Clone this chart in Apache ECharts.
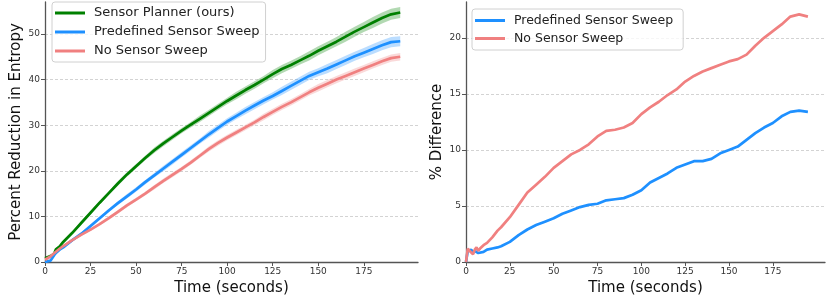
<!DOCTYPE html>
<html><head><meta charset="utf-8">
<script src="https://cdn.jsdelivr.net/npm/echarts@6/dist/echarts.min.js"></script>
<style>html,body{margin:0;padding:0;background:#fff}#c{width:830px;height:296px}</style>
</head><body><div id="c"></div>
<script>
// ---- Left panel data ----
const timeL = [0,3,5,6,8,10,15,20,25,30,35,40,45,50,55,60,65,70,75,80,85,90,95,100,105,110,115,120,125,130,135,140,145,150,155,160,165,170,175,180,185,190,195];
const plannerL = [0.8,1.3,1.8,2.8,3.4,4.4,6.4,8.6,10.8,13.0,15.1,17.2,19.2,21.0,22.8,24.5,26.0,27.4,28.8,30.1,31.4,32.7,34.0,35.3,36.5,37.7,38.8,40.0,41.2,42.3,43.2,44.2,45.2,46.3,47.3,48.3,49.4,50.5,51.5,52.5,53.5,54.3,54.7];
const predefL = [0,0.3,1.5,2.0,2.7,3.2,4.8,6.2,7.9,9.6,11.3,12.9,14.4,15.9,17.5,19.0,20.5,22.0,23.5,25.0,26.5,28.0,29.4,30.8,32.0,33.2,34.3,35.4,36.4,37.5,38.6,39.7,40.8,41.6,42.4,43.3,44.2,45.1,45.9,46.7,47.5,48.2,48.4];
const noSweepL = [0.5,1.2,1.9,2.3,2.9,3.5,4.8,6.0,7.1,8.3,9.6,11.0,12.4,13.7,15.0,16.4,17.8,19.1,20.4,21.8,23.3,24.8,26.1,27.3,28.4,29.5,30.6,31.8,32.9,34.0,35.0,36.1,37.2,38.2,39.1,40.0,40.8,41.6,42.4,43.2,44.0,44.7,45.0];
// half-widths of shaded bands
const plannerBand = [0.2,0.2,0.3,0.3,0.3,0.3,0.3,0.4,0.4,0.4,0.4,0.5,0.5,0.5,0.5,0.6,0.6,0.6,0.6,0.6,0.7,0.7,0.7,0.7,0.8,0.8,0.8,0.8,0.9,0.9,0.9,0.9,1.0,1.0,1.0,1.0,1.1,1.1,1.1,1.2,1.2,1.2,1.2];
const predefBand  = [0.2,0.2,0.3,0.3,0.3,0.3,0.3,0.3,0.4,0.4,0.4,0.4,0.5,0.5,0.5,0.5,0.6,0.6,0.6,0.6,0.6,0.7,0.7,0.7,0.7,0.8,0.8,0.8,0.8,0.9,0.9,0.9,0.9,0.9,1.0,1.0,1.0,1.0,1.0,1.1,1.1,1.1,1.1];
const noSweepBand = [0.2,0.2,0.2,0.2,0.3,0.3,0.3,0.3,0.3,0.3,0.4,0.4,0.4,0.4,0.4,0.5,0.5,0.5,0.5,0.5,0.5,0.6,0.6,0.6,0.6,0.6,0.6,0.7,0.7,0.7,0.7,0.7,0.7,0.8,0.8,0.8,0.8,0.8,0.8,0.8,0.8,0.8,0.8];

// ---- Right panel data ----
const timeR = [0,1,2,3,4,5,6,7,8,10,12,15,18,20,25,30,35,40,45,50,55,60,65,70,75,80,85,90,95,100,105,110,115,120,125,130,135,140,145,150,155,160,165,170,175,180,185,190,195];
const predefDiff = [0,1.0,0.9,1.1,0.8,1.0,1.1,0.8,0.7,0.9,1.1,1.2,1.3,1.4,1.8,2.4,2.9,3.3,3.6,3.9,4.3,4.6,4.9,5.1,5.2,5.5,5.6,5.7,6.0,6.4,7.1,7.5,7.9,8.4,8.7,9.0,9.0,9.2,9.7,10.0,10.3,10.9,11.5,12.0,12.4,13.0,13.4,13.5,13.4];
const noSweepDiff = [0,1.2,1.0,0.9,0.7,1.1,1.3,1.0,1.2,1.5,1.7,2.2,2.8,3.1,4.0,5.1,6.2,6.9,7.6,8.4,9.0,9.6,10.0,10.5,11.2,11.7,11.8,12.0,12.4,13.2,13.8,14.3,14.9,15.4,16.1,16.6,17.0,17.3,17.6,17.9,18.1,18.5,19.3,20.0,20.6,21.2,21.9,22.1,21.9];

const xTicks = [0,25,50,75,100,125,150,175,200];
const names = ['Sensor Planner (ours)','Predefined Sensor Sweep','No Sensor Sweep'];
const colors = ['#008000','#1e90ff','#f08080'];
const bandColors = ['rgba(0,128,0,0.3)','rgba(30,144,255,0.3)','rgba(240,128,128,0.3)'];

const FONT = 'DejaVu Sans';
const zip = (xs, ys) => xs.map((x,i)=>[x, ys[i]]);

function bandSeries(idx, vals, band){
  const data = timeL.map((t,i)=>[t, vals[i]-band[i], vals[i]+band[i]]);
  return {
    type:'custom', xAxisIndex:0, yAxisIndex:0, silent:true, z:1,
    encode:{x:0, y:[1,2]},
    data,
    renderItem:function(params, api){
      if (params.dataIndex !== 0) return null;
      const upper = data.map(d=>api.coord([d[0], d[2]]));
      const lower = data.map(d=>api.coord([d[0], d[1]])).reverse();
      return {type:'polygon', shape:{points: upper.concat(lower)}, style:{fill: bandColors[idx], stroke:'none'}};
    }
  };
}
function mainLine(name, idx, xs, ys, xi){
  return {name, type:'line', xAxisIndex:xi, yAxisIndex:xi, symbol:'none',
    lineStyle:{color:colors[idx], width:2.7}, itemStyle:{color:colors[idx]},
    data: zip(xs, ys), z:3};
}

const axisCommon = {
  axisLine:{show:true, lineStyle:{color:'#555', width:1.3}},
  axisTick:{show:true, length:4, lineStyle:{color:'#555'}},
  axisLabel:{fontFamily:FONT, fontSize:9, color:'#333', margin:5, showMaxLabel:false},
  nameTextStyle:{fontFamily:FONT, fontSize:15, color:'#111'}
};
function xAx(gi){
  return Object.assign({}, axisCommon, {type:'value', gridIndex:gi, min:0, max:204.75, interval:25,
    name:'Time (seconds)', nameLocation:'middle', nameGap:17, splitLine:{show:false},
    axisLabel:Object.assign({}, axisCommon.axisLabel, {customValues:xTicks}),
    axisTick:Object.assign({}, axisCommon.axisTick, {customValues:xTicks})});
}
function yAx(gi, max, interval, name){
  return Object.assign({}, axisCommon, {type:'value', gridIndex:gi, min:0, max, interval,
    name, nameLocation:'middle', nameGap:21, nameRotate:90,
    splitLine:{show:true, showMinLine:false, showMaxLine:false, lineStyle:{color:'#c8c8c8', type:[3,2], width:0.8}}});
}

const legendCommon = {
  orient:'vertical', icon:'rect', itemWidth:30, itemHeight:3,
  backgroundColor:'rgba(255,255,255,0.8)', borderColor:'#d0d0d0', borderWidth:1, borderRadius:3
};

const chart = echarts.init(document.getElementById('c'), null, {renderer:'canvas'});
chart.setOption({
  animation:false,
  grid:[{left:45, right:412, top:2, bottom:34, outerBoundsMode:'none', containLabel:false},
        {left:466, right:5, top:2, bottom:34, outerBoundsMode:'none', containLabel:false}],
  xAxis:[xAx(0), xAx(1)],
  yAxis:[yAx(0, 57, 10, 'Percent Reduction in Entropy'), yAx(1, 23.2, 5, '% Difference')],
  legend:[
    Object.assign({}, legendCommon, {left:52, top:2, width:213, itemGap:4, padding:[3.5,6,3.5,3],
      textStyle:{fontFamily:FONT, fontSize:13, color:'#222', lineHeight:15, padding:[0,0,0,4]}, data:names}),
    Object.assign({}, legendCommon, {left:472, top:9, itemGap:3, padding:[4,6,4,3],
      textStyle:{fontFamily:FONT, fontSize:12.5, color:'#222', lineHeight:15, padding:[0,0,0,4]}, data:[names[1]+' ', names[2]+' ']})
  ],
  series:[
    bandSeries(0, plannerL, plannerBand),
    bandSeries(1, predefL, predefBand),
    bandSeries(2, noSweepL, noSweepBand),
    mainLine(names[0], 0, timeL, plannerL, 0),
    mainLine(names[1], 1, timeL, predefL, 0),
    mainLine(names[2], 2, timeL, noSweepL, 0),
    mainLine(names[1]+' ', 1, timeR, predefDiff, 1),
    mainLine(names[2]+' ', 2, timeR, noSweepDiff, 1)
  ]
});
</script></body></html>
